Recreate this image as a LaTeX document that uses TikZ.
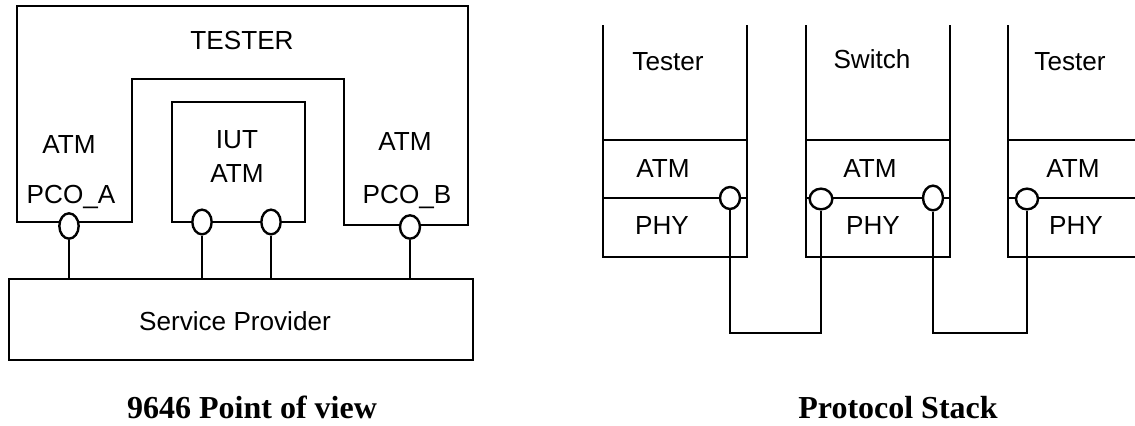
\documentclass[tikz,border=0pt]{standalone}
\usepackage{fontspec}
\setmainfont{Liberation Sans}
\newfontfamily\capfont{Liberation Serif}
\usetikzlibrary{shapes.geometric}
\tikzset{
  wire/.style={line width=1.8pt, line join=miter},
  lbl/.style={anchor=base, inner sep=0pt, font=\fontsize{19.6}{23}\selectfont},
  captext/.style={anchor=base, inner sep=0pt, font=\capfont\bfseries\fontsize{24}{28}\selectfont},
  port/.style={draw, ellipse, fill=white, line width=1.8pt, inner sep=0pt},
}
\begin{document}
\begin{tikzpicture}[x=0.75pt, y=-0.75pt]
\useasboundingbox (0,0) rectangle (1135,425);

% ---------- left: 9646 point of view ----------
\draw[wire] (17,222) -- (17,6) -- (468,6) -- (468,225) -- (344,225) -- (344,79) -- (132,79) -- (132,222) -- cycle;
\node[draw, line width=1.8pt, minimum width=99.75pt, minimum height=90pt, inner sep=0pt] (iut) at (238.5,162) {};
\node[draw, line width=1.8pt, minimum width=348pt, minimum height=60.75pt, inner sep=0pt] (sp) at (241,319.5) {};

\node[lbl] (tester) at (242,49) {TESTER};
\node[lbl] (atmA) at (69,153) {ATM};
\node[lbl] (pcoA) at (71,203) {PCO\_A};
\node[lbl] (iutl) at (237,148) {IUT};
\node[lbl] (iuta) at (237,182) {ATM};
\node[lbl] (atmB) at (405,150) {ATM};
\node[lbl] (pcoB) at (407,203) {PCO\_B};
\node[lbl] (spl) at (235,330) {Service Provider};

\node[port, minimum width=14.5pt, minimum height=19pt] (pa) at (69,226) {};
\node[port, minimum width=14.5pt, minimum height=18.5pt] (i1) at (202,222) {};
\node[port, minimum width=14.5pt, minimum height=18.5pt] (i2) at (271,222) {};
\node[port, minimum width=15pt, minimum height=17.5pt] (pb) at (410,227) {};

\draw[wire] (pa.south) -- (pa.south |- sp.north);
\draw[wire] (i1.south) -- (i1.south |- sp.north);
\draw[wire] (i2.south) -- (i2.south |- sp.north);
\draw[wire] (pb.south) -- (pb.south |- sp.north);

\node[captext] (cap1) at (252,418) {9646 Point of view};

% ---------- right: protocol stack ----------
% stack 1
\draw[wire] (603,25) -- (603,257) -- (747,257) -- (747,25);
\draw[wire] (603,140) -- (747,140);
\draw[wire] (603,198) -- (747,198);
% stack 2
\draw[wire] (806,25) -- (806,257) -- (950,257) -- (950,25);
\draw[wire] (806,140) -- (950,140);
\draw[wire] (806,198) -- (950,198);
% stack 3
\draw[wire] (1008,25) -- (1008,257) -- (1135,257);
\draw[wire] (1008,140) -- (1135,140);
\draw[wire] (1008,198) -- (1135,198);

\node[lbl] (t1) at (668,70) {Tester};
\node[lbl] (a1) at (663,177) {ATM};
\node[lbl] (p1) at (662,234) {PHY};
\node[lbl] (t2) at (872,68) {Switch};
\node[lbl] (a2) at (870,177) {ATM};
\node[lbl] (p2) at (873,234) {PHY};
\node[lbl] (t3) at (1070,70) {Tester};
\node[lbl] (a3) at (1073,177) {ATM};
\node[lbl] (p3) at (1076,234) {PHY};

\node[port, minimum width=15pt, minimum height=16.5pt] (c1) at (730,198) {};
\node[port, minimum width=17pt, minimum height=15.5pt] (c2) at (821,199) {};
\node[port, minimum width=15pt, minimum height=18.5pt] (c3) at (933,198) {};
\node[port, minimum width=16.5pt, minimum height=15.5pt] (c4) at (1027,199) {};

\coordinate (w1) at (730,333);
\coordinate (w2) at (933,333);
\draw[wire] (c1.south) -- (w1) -- (w1 -| c2.south) -- (c2.south);
\draw[wire] (c3.south) -- (w2) -- (w2 -| c4.south) -- (c4.south);

\node[captext] (cap2) at (898,418) {Protocol Stack};
\end{tikzpicture}
\end{document}
